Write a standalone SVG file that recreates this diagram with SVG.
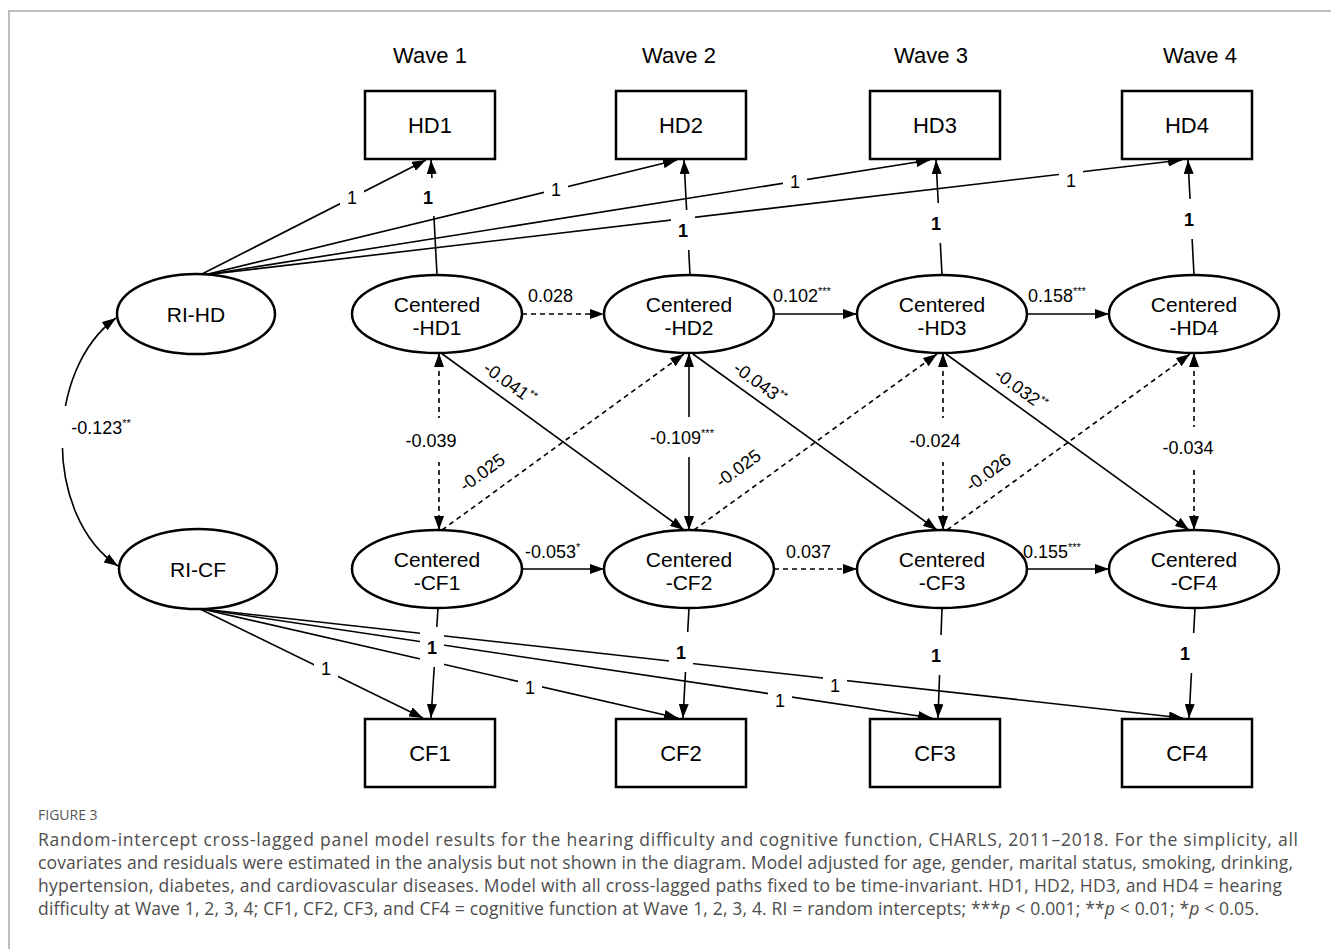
<svg xmlns="http://www.w3.org/2000/svg" width="1331" height="949" viewBox="0 0 1331 949">
<style>
text{font-family:"Liberation Sans",Arial,sans-serif;fill:#000}
.wave{font-size:22px;text-anchor:middle}
.box{fill:#fff;stroke:#000;stroke-width:2.5}
.ell{fill:#fff;stroke:#000;stroke-width:2.5}
.nt{font-size:22px;text-anchor:middle}
.et{font-size:21px;text-anchor:middle}
.c path{fill:none;stroke:#000;stroke-width:1.6}
.c .d{stroke-dasharray:5 4}
.c .a{marker-end:url(#ah)}
.c .aa{marker-start:url(#ah);marker-end:url(#ah)}
.lbl{font-size:18px}
.m{text-anchor:middle}
.b{font-weight:bold}
.bg{fill:#fff}
.sup{font-size:11px}
.cap{font-family:"Open Sans",sans-serif;font-size:17.5px;fill:#4d4d4d}
.fig{font-family:"Open Sans",sans-serif;font-size:14px;fill:#555}
.frame{fill:none;stroke:#bdbdbd;stroke-width:2}
</style>
<defs>
<marker id="ah" viewBox="0 0 14 10" refX="14" refY="5" markerWidth="14" markerHeight="10" markerUnits="userSpaceOnUse" orient="auto-start-reverse"><path d="M0,0 L14,5 L0,10 z" fill="#000"/></marker>
</defs>
<rect width="1331" height="949" fill="#fff"/>
<path class="frame" d="M9,949 V11 H1331"/>

<g id="wave-labels">
<text class="wave" x="430" y="63">Wave 1</text>
<text class="wave" x="679" y="63">Wave 2</text>
<text class="wave" x="931" y="63">Wave 3</text>
<text class="wave" x="1200" y="63">Wave 4</text>
</g>

<g id="connectors" class="c">
<path class="a" d="M200,275 L426,160"/>
<path class="a" d="M204,275 L677,160"/>
<path class="a" d="M204,275 L930,160"/>
<path class="a" d="M204,275 L1182,160"/>
<path class="a" d="M437,275 L431,160"/>
<path class="a" d="M690,275 L684,160"/>
<path class="a" d="M942,275 L936,160"/>
<path class="a" d="M1194,275 L1188,160"/>
<path class="a d" d="M522,314 H604"/>
<path class="a" d="M775,314 H857"/>
<path class="a" d="M1027,314 H1109"/>
<path class="a" d="M522,569 H604"/>
<path class="a d" d="M774,569 H857"/>
<path class="a" d="M1027,569 H1109"/>
<path class="aa d" d="M439,353 V530"/>
<path class="aa" d="M689,353 V530"/>
<path class="aa d" d="M943,353 V530"/>
<path class="aa d" d="M1194,353 V530"/>
<path class="a" d="M441,353 L684,530"/>
<path class="a" d="M693,354 L937,530"/>
<path class="a" d="M946,354 L1189,530"/>
<path class="a d" d="M442,530 L684,354"/>
<path class="a d" d="M694,530 L937,354"/>
<path class="a d" d="M947,530 L1190,354"/>
<path class="a" d="M438,608 L431,718"/>
<path class="a" d="M689,608 L683,718"/>
<path class="a" d="M942,608 L938,718"/>
<path class="a" d="M1195,608 L1189,718"/>
<path class="a" d="M200,609 L423,718"/>
<path class="a" d="M202,609 L678,718"/>
<path class="a" d="M202,609 L932,718"/>
<path class="a" d="M202,609 L1183,718"/>
<path class="aa" d="M116,318 C44,370 44,517 118,566"/>
</g>

<g id="HD1"><rect class="box" x="365" y="91" width="130" height="68"/><text class="nt" x="430" y="133">HD1</text></g>
<g id="HD2"><rect class="box" x="616" y="91" width="130" height="68"/><text class="nt" x="681" y="133">HD2</text></g>
<g id="HD3"><rect class="box" x="870" y="91" width="130" height="68"/><text class="nt" x="935" y="133">HD3</text></g>
<g id="HD4"><rect class="box" x="1122" y="91" width="130" height="68"/><text class="nt" x="1187" y="133">HD4</text></g>

<g id="RI-HD"><ellipse class="ell" cx="196" cy="314" rx="79" ry="40"/><text class="et" x="196" y="322">RI-HD</text></g>
<g id="Centered-HD1"><ellipse class="ell" cx="437" cy="314" rx="85" ry="39"/><text class="et" x="437" y="312">Centered</text><text class="et" x="437" y="335">-HD1</text></g>
<g id="Centered-HD2"><ellipse class="ell" cx="689" cy="314" rx="85" ry="39"/><text class="et" x="689" y="312">Centered</text><text class="et" x="689" y="335">-HD2</text></g>
<g id="Centered-HD3"><ellipse class="ell" cx="942" cy="314" rx="85" ry="39"/><text class="et" x="942" y="312">Centered</text><text class="et" x="942" y="335">-HD3</text></g>
<g id="Centered-HD4"><ellipse class="ell" cx="1194" cy="314" rx="85" ry="39"/><text class="et" x="1194" y="312">Centered</text><text class="et" x="1194" y="335">-HD4</text></g>

<g id="RI-CF"><ellipse class="ell" cx="198" cy="569" rx="79" ry="40"/><text class="et" x="198" y="577">RI-CF</text></g>
<g id="Centered-CF1"><ellipse class="ell" cx="437" cy="569" rx="85" ry="39"/><text class="et" x="437" y="567">Centered</text><text class="et" x="437" y="590">-CF1</text></g>
<g id="Centered-CF2"><ellipse class="ell" cx="689" cy="569" rx="85" ry="39"/><text class="et" x="689" y="567">Centered</text><text class="et" x="689" y="590">-CF2</text></g>
<g id="Centered-CF3"><ellipse class="ell" cx="942" cy="569" rx="85" ry="39"/><text class="et" x="942" y="567">Centered</text><text class="et" x="942" y="590">-CF3</text></g>
<g id="Centered-CF4"><ellipse class="ell" cx="1194" cy="569" rx="85" ry="39"/><text class="et" x="1194" y="567">Centered</text><text class="et" x="1194" y="590">-CF4</text></g>

<g id="CF1"><rect class="box" x="365" y="719" width="130" height="68"/><text class="nt" x="430" y="761">CF1</text></g>
<g id="CF2"><rect class="box" x="616" y="719" width="130" height="68"/><text class="nt" x="681" y="761">CF2</text></g>
<g id="CF3"><rect class="box" x="870" y="719" width="130" height="68"/><text class="nt" x="935" y="761">CF3</text></g>
<g id="CF4"><rect class="box" x="1122" y="719" width="130" height="68"/><text class="nt" x="1187" y="761">CF4</text></g>

<g id="edge-labels">
<rect class="bg" x="340" y="183" width="24" height="28"/><text class="lbl m" x="352" y="203.5">1</text>
<rect class="bg" x="544" y="175" width="24" height="28"/><text class="lbl m" x="556" y="195.5">1</text>
<rect class="bg" x="783" y="167" width="24" height="28"/><text class="lbl m" x="795" y="187.5">1</text>
<rect class="bg" x="1059" y="166" width="24" height="28"/><text class="lbl m" x="1071" y="186.5">1</text>
<rect class="bg" x="314" y="654" width="24" height="28"/><text class="lbl m" x="326" y="674.5">1</text>
<rect class="bg" x="518" y="673" width="24" height="28"/><text class="lbl m" x="530" y="693.5">1</text>
<rect class="bg" x="768" y="686" width="24" height="28"/><text class="lbl m" x="780" y="706.5">1</text>
<rect class="bg" x="823" y="671" width="24" height="28"/><text class="lbl m" x="835" y="691.5">1</text>

<rect class="bg" x="416" y="178" width="24" height="38"/><text class="lbl m b" x="428" y="203.5">1</text>
<rect class="bg" x="671" y="210" width="24" height="40"/><text class="lbl m b" x="683" y="236.5">1</text>
<rect class="bg" x="924" y="203" width="24" height="40"/><text class="lbl m b" x="936" y="229.5">1</text>
<rect class="bg" x="1177" y="199" width="24" height="40"/><text class="lbl m b" x="1189" y="225.5">1</text>
<rect class="bg" x="420" y="627" width="24" height="40"/><text class="lbl m b" x="432" y="653.5">1</text>
<rect class="bg" x="669" y="632" width="24" height="40"/><text class="lbl m b" x="681" y="658.5">1</text>
<rect class="bg" x="924" y="635" width="24" height="40"/><text class="lbl m b" x="936" y="661.5">1</text>
<rect class="bg" x="1173" y="633" width="24" height="40"/><text class="lbl m b" x="1185" y="659.5">1</text>

<text class="lbl" x="528" y="302">0.028</text>
<text class="lbl" x="773" y="302">0.102<tspan class="sup" dy="-7">***</tspan></text>
<text class="lbl" x="1028" y="302">0.158<tspan class="sup" dy="-7">***</tspan></text>
<text class="lbl" x="525" y="558">-0.053<tspan class="sup" dy="-7">*</tspan></text>
<text class="lbl" x="786" y="558">0.037</text>
<text class="lbl" x="1023" y="558">0.155<tspan class="sup" dy="-7">***</tspan></text>

<rect class="bg" x="403" y="418" width="56" height="44"/><text class="lbl m" x="431" y="446.5">-0.039</text>
<rect class="bg" x="647" y="417" width="72" height="40"/><text class="lbl m" x="682" y="443.5">-0.109<tspan class="sup" dy="-7">***</tspan></text>
<rect class="bg" x="907" y="418" width="56" height="44"/><text class="lbl m" x="935" y="446.5">-0.024</text>
<rect class="bg" x="1160" y="427" width="56" height="40"/><text class="lbl m" x="1188" y="453.5">-0.034</text>
<rect class="bg" x="54" y="406" width="86" height="42"/><text class="lbl m" x="101" y="433.5">-0.123<tspan class="sup" dy="-7">**</tspan></text>

<text class="lbl m" transform="translate(510,383) rotate(36)" x="0" y="6.5">-0.041<tspan class="sup" dy="-7">**</tspan></text>
<text class="lbl m" transform="translate(760,383) rotate(36)" x="0" y="6.5">-0.043<tspan class="sup" dy="-7">**</tspan></text>
<text class="lbl m" transform="translate(1021,389) rotate(36)" x="0" y="6.5">-0.032<tspan class="sup" dy="-7">**</tspan></text>
<text class="lbl m" transform="translate(482,472) rotate(-36)" x="0" y="6.5">-0.025</text>
<text class="lbl m" transform="translate(738,468) rotate(-36)" x="0" y="6.5">-0.025</text>
<text class="lbl m" transform="translate(988,472) rotate(-36)" x="0" y="6.5">-0.026</text>
</g>

<g id="caption">
<text class="fig" x="38" y="820">FIGURE 3</text>
<text class="cap" x="38" y="846" textLength="1260" lengthAdjust="spacing">Random-intercept cross-lagged panel model results for the hearing difficulty and cognitive function, CHARLS, 2011–2018. For the simplicity, all</text>
<text class="cap" x="38" y="869" textLength="1255" lengthAdjust="spacing">covariates and residuals were estimated in the analysis but not shown in the diagram. Model adjusted for age, gender, marital status, smoking, drinking,</text>
<text class="cap" x="38" y="892" textLength="1244" lengthAdjust="spacing">hypertension, diabetes, and cardiovascular diseases. Model with all cross-lagged paths fixed to be time-invariant. HD1, HD2, HD3, and HD4 = hearing</text>
<text class="cap" x="38" y="915" textLength="1221" lengthAdjust="spacing">difficulty at Wave 1, 2, 3, 4; CF1, CF2, CF3, and CF4 = cognitive function at Wave 1, 2, 3, 4. RI = random intercepts; ***<tspan font-style="italic">p</tspan> &lt; 0.001; **<tspan font-style="italic">p</tspan> &lt; 0.01; *<tspan font-style="italic">p</tspan> &lt; 0.05.</text>
</g>
</svg>
